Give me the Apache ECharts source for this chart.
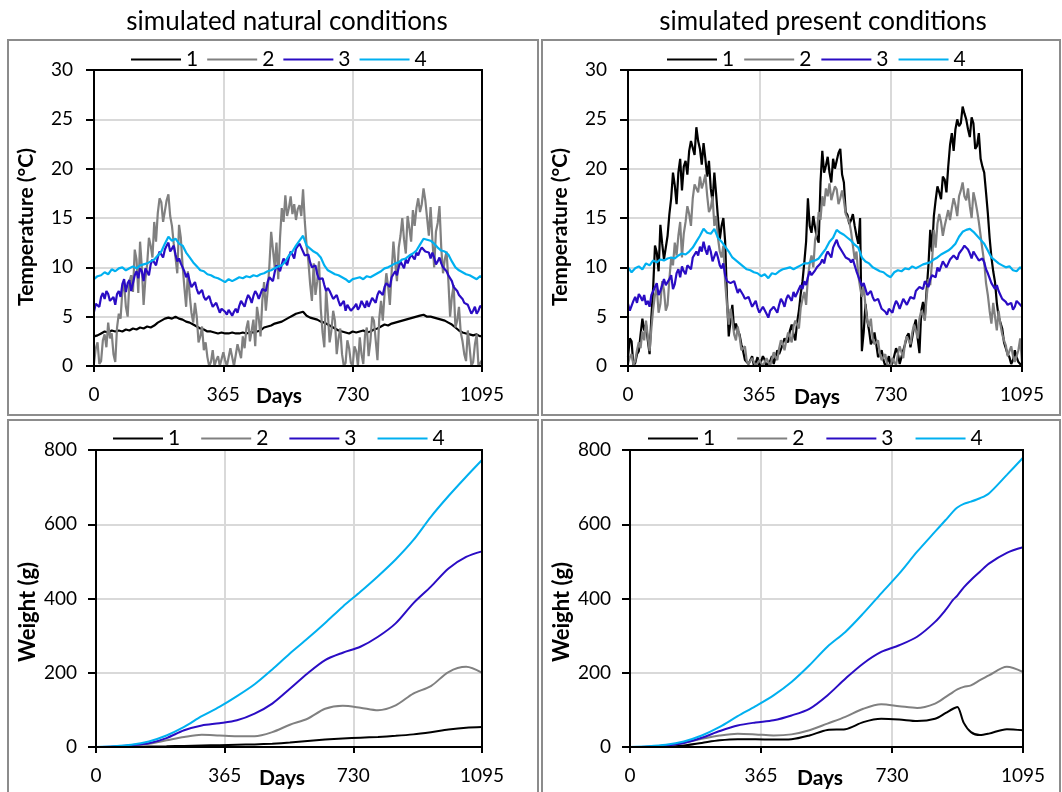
<!DOCTYPE html>
<html>
<head>
<meta charset="utf-8">
<script src="https://cdn.jsdelivr.net/npm/echarts@6/dist/echarts.min.js"></script>
<style>
html,body{margin:0;padding:0;background:#fff;}
#main{width:1062px;height:792px;}
</style>
</head>
<body>
<div id="main"></div>
<script>
// ---------- DATA ----------
const seriesNames = ['1', '2', '3', '4'];
const panelTitles = ['simulated natural conditions', 'simulated present conditions'];

// Temperature sampled every 10 days (0..1090) plus day 1095;
// the noisier series also carry readings at the in-between days 5, 15, ... 1085
const tempDays = [];
for (let d = 0; d <= 1090; d += 10) tempDays.push(d);
tempDays.push(1095);
const midDays = [];
for (let d = 5; d <= 1085; d += 10) midDays.push(d);

// simulated natural conditions – temperature (°C)
const natT1 = [3.0,3.1,3.3,3.5,3.4,3.6,3.5,3.6,3.5,3.7,
  3.6,3.8,3.7,3.9,3.8,4.0,3.9,4.1,4.4,4.6,
  4.8,4.9,4.8,5.0,4.8,4.7,4.5,4.4,4.2,4.0,
  3.8,3.7,3.5,3.5,3.4,3.3,3.4,3.3,3.3,3.4,
  3.3,3.3,3.4,3.3,3.4,3.4,3.5,3.6,3.9,4.0,
  4.1,4.3,4.4,4.5,4.7,4.9,5.1,5.3,5.4,5.5,
  5.1,4.9,4.8,4.7,4.5,4.4,4.2,4.0,3.8,3.6,
  3.5,3.4,3.3,3.5,3.4,3.5,3.6,3.4,3.5,3.7,
  3.8,4.0,4.2,4.1,4.3,4.4,4.5,4.6,4.7,4.8,
  4.9,5.0,5.1,5.2,5.0,5.0,4.9,4.8,4.7,4.6,
  4.4,4.2,3.9,3.6,3.4,3.3,3.2,3.1,3.2,3.0,
  3.1];
const natT2 = [0.3,2.4,0.5,3.2,4.4,3.3,0.4,5.3,7.6,6.0,
  8.6,7.5,10.8,12.6,6.2,10.3,12.2,14.6,15.5,16.6,
  15.7,17.4,14.2,11.0,14.3,10.2,6.0,7.2,4.4,5.0,
  3.0,1.6,0.9,0.4,0.0,1.0,0.0,0.6,0.0,0.9,
  0.2,1.5,3.0,3.8,2.5,4.7,6.0,3.0,8.5,7.6,
  13.6,10.0,8.8,16.0,17.3,16.0,15.4,14.8,16.3,17.9,
  12.2,8.3,10.4,8.6,5.8,1.9,5.3,3.6,4.6,2.8,
  1.2,0.3,1.8,0.0,1.5,2.9,0.2,3.9,2.5,4.6,
  0.6,6.6,7.3,8.1,9.5,10.5,12.0,15.0,11.4,14.0,
  15.8,16.0,15.6,18.0,15.0,16.1,10.0,14.5,12.0,10.8,
  8.7,7.0,3.9,6.0,2.5,0.5,1.9,0.4,3.2,0.2,
  0.6];
const natT2Mid = [1.8,0.2,2.6,1.9,2.8,1.2,3.9,4.8,8.4,5.0,
  9.2,11.8,7.4,10.0,8.8,13.0,11.0,12.6,17.0,14.6,
  16.8,15.2,12.4,9.4,13.0,8.0,9.6,5.4,6.4,2.4,
  4.0,2.4,0.0,1.6,0.6,0.0,1.4,0.0,1.8,0.0,
  2.2,0.8,1.8,4.6,3.6,2.0,4.8,6.6,5.6,10.2,
  11.8,12.5,13.0,14.6,15.2,17.2,16.4,15.9,15.2,14.6,
  10.6,6.6,7.2,10.6,3.4,7.8,2.4,5.6,1.2,3.8,
  0.0,2.6,0.3,2.0,0.0,1.2,3.2,1.0,5.0,2.6,
  4.8,4.6,9.4,6.2,12.6,8.6,13.2,12.8,15.2,12.6,
  14.2,17.0,16.4,16.8,13.2,12.8,13.6,16.2,9.4,11.6,
  5.0,8.2,4.6,3.4,1.2,3.6,0.0,2.2,0.0];
const natT3 = [5.5,6.5,7.0,6.8,7.3,6.4,6.2,7.6,8.3,7.5,
  8.7,7.8,9.6,9.9,8.6,9.8,10.3,10.6,11.0,11.4,
  11.8,12.5,11.9,11.3,10.9,10.0,9.0,8.6,8.1,7.8,
  7.4,7.0,6.8,6.5,6.1,5.9,5.8,5.5,5.7,5.1,
  5.8,6.1,6.5,6.7,6.9,7.1,7.3,6.9,8.0,8.5,
  9.1,9.5,10.1,10.3,10.6,11.0,11.3,11.9,12.4,11.8,
  11.0,10.5,10.0,9.3,8.6,8.2,7.9,7.4,7.0,6.6,
  6.3,5.6,6.1,5.4,6.3,6.0,6.5,6.6,6.2,6.8,
  7.2,7.6,8.0,8.4,9.0,9.6,10.0,10.4,10.8,10.9,
  11.1,11.5,11.7,12.2,11.8,10.9,11.0,10.6,10.4,10.0,
  9.2,8.6,7.8,7.2,6.8,6.5,6.1,5.6,5.3,6.1,
  5.9];
const natT3Mid = [6.3,6.0,7.4,7.6,6.6,7.0,7.3,7.0,8.8,8.4,
  7.6,9.2,8.9,9.6,9.9,9.2,10.8,10.2,11.6,11.0,
  12.2,11.6,12.2,10.6,10.4,9.6,9.4,8.0,8.5,7.3,
  7.7,6.7,7.1,6.0,6.4,5.4,6.0,5.2,5.9,5.5,
  5.4,6.6,6.0,7.2,6.4,7.6,6.8,7.8,7.6,9.0,
  8.6,10.2,9.6,10.9,10.2,11.6,10.9,12.0,12.0,11.2,
  11.3,10.0,10.2,8.8,8.9,7.6,7.6,6.8,7.2,6.1,
  6.6,6.2,5.6,6.0,5.7,6.6,5.9,6.0,6.9,6.4,
  7.6,7.2,8.4,8.0,9.3,9.2,10.6,9.9,10.4,11.3,
  10.8,11.2,12.0,11.6,11.5,11.5,10.3,11.0,10.0,9.6,
  9.0,8.0,7.6,7.0,6.4,6.2,5.3,6.0,5.6];
const natT4 = [8.8,9.1,9.2,9.5,9.3,9.8,9.6,9.9,10.0,9.7,
  9.9,10.1,9.9,10.2,10.3,10.4,10.6,10.8,11.2,11.6,
  12.4,13.1,12.7,12.9,12.4,12.2,11.5,11.0,10.5,10.1,
  9.7,9.6,9.3,9.2,9.0,8.9,8.7,8.5,8.8,8.6,
  8.8,9.0,8.9,9.1,9.0,9.2,9.1,9.3,9.4,9.6,
  9.7,9.9,10.1,10.2,10.6,11.2,11.6,12.2,12.7,13.2,
  12.2,11.9,11.6,11.4,11.0,10.2,9.7,9.5,9.3,9.2,
  9.0,8.8,8.5,8.8,8.9,9.0,8.8,9.1,9.0,9.2,
  9.4,9.6,9.9,10.0,10.2,10.4,10.5,10.8,10.9,11.2,
  11.4,11.7,12.3,12.9,12.8,12.7,12.4,12.0,11.7,11.6,
  11.3,10.6,10.0,9.7,9.5,9.3,9.2,9.0,8.8,9.1,
  9.0];

// simulated present conditions – temperature (°C)
const presT1 = [0.9,2.5,0.3,1.5,4.8,4.2,1.2,8.0,11.5,14.3,
  10.8,13.2,17.0,18.3,19.6,17.8,20.8,21.8,23.0,24.2,
  22.0,22.6,19.2,18.0,19.6,15.0,14.2,12.6,3.0,6.2,
  4.3,3.2,1.5,0.8,0.3,0.0,0.9,0.2,0.6,0.1,
  1.0,0.4,1.2,2.2,3.0,3.6,3.2,4.4,7.3,10.5,
  17.0,13.5,14.0,12.5,21.8,20.3,19.6,21.0,20.8,22.0,
  18.6,15.3,14.8,14.2,12.4,1.5,6.3,3.6,2.6,2.2,
  1.2,0.6,0.3,0.0,0.5,1.3,0.9,2.2,3.3,2.9,
  4.7,1.3,6.5,7.7,13.8,15.2,18.2,16.9,18.9,20.2,
  23.6,24.0,24.3,26.3,25.0,23.2,24.6,22.3,21.0,19.6,
  15.5,11.0,8.5,5.0,3.8,1.8,0.9,0.6,0.9,0.3,
  0.0];
const presT1Mid = [2.8,0.0,1.2,3.2,3.6,2.6,5.0,12.2,9.6,12.4,
  12.0,15.4,19.6,16.4,21.0,20.2,19.4,22.8,21.4,22.8,
  20.4,21.0,20.8,16.6,17.4,12.8,15.0,7.0,4.6,3.6,
  3.6,2.2,0.6,0.2,1.0,0.3,0.0,1.0,0.0,0.5,
  0.2,1.6,1.0,2.8,2.4,4.2,2.6,5.6,8.6,12.6,
  14.2,15.2,13.0,18.6,19.6,21.2,18.6,20.0,21.6,19.4,
  15.6,14.4,15.4,13.2,15.0,3.4,4.6,2.2,3.4,0.9,
  1.6,0.0,1.0,0.3,1.8,0.2,1.6,3.0,1.9,4.0,
  2.8,5.6,5.0,10.2,11.6,16.8,17.6,19.2,17.6,22.4,
  21.8,25.0,24.6,25.6,24.0,25.2,22.0,23.6,20.2,17.6,
  13.0,9.6,6.4,4.4,2.4,1.2,0.2,1.6,0.4];
const presT2 = [0.2,1.2,0.5,2.4,3.5,4.6,1.5,5.8,8.0,6.3,
  7.7,6.2,11.0,12.5,13.2,11.0,14.6,15.4,17.0,18.2,
  19.2,18.6,17.3,16.0,14.2,13.0,11.0,8.5,4.2,4.6,
  2.6,3.0,1.4,0.5,0.2,0.4,0.0,0.3,0.1,0.4,
  0.2,0.9,1.8,2.3,2.6,3.2,4.0,4.8,5.9,7.5,
  9.0,11.2,12.8,15.6,17.2,18.0,18.5,17.5,17.9,17.0,
  16.8,15.0,13.6,10.8,9.2,7.0,6.0,4.0,2.8,2.0,
  1.2,0.5,0.2,0.0,0.4,1.2,1.8,2.4,2.9,3.4,
  3.6,4.8,5.7,7.0,8.2,13.8,14.4,14.6,14.2,15.8,
  16.0,16.3,17.2,18.6,16.8,16.2,17.6,15.8,13.2,10.5,
  7.2,4.3,5.0,5.6,3.2,2.1,1.5,1.0,0.5,2.8,
  0.3];
const presT2Mid = [0.9,0.1,1.6,1.8,2.6,3.0,3.8,7.2,5.4,8.6,
  5.6,8.8,10.2,11.2,14.6,13.4,16.2,14.2,18.4,17.6,
  18.0,19.4,15.6,17.2,15.2,11.6,12.2,6.2,5.8,3.2,
  4.0,1.6,2.0,0.2,0.8,0.0,0.6,0.0,0.8,0.0,
  1.4,0.6,2.6,1.6,3.4,2.4,4.6,3.8,6.8,6.2,
  10.4,10.0,13.6,14.8,16.2,17.2,16.8,18.2,16.4,17.8,
  15.4,14.6,12.2,11.6,8.0,8.2,4.6,4.8,2.2,2.6,
  0.6,1.2,0.0,0.8,0.1,2.0,0.8,3.0,2.2,4.2,
  2.8,5.6,4.6,8.8,10.6,12.0,15.4,13.2,15.0,14.8,
  17.0,15.2,17.8,17.2,18.0,15.0,16.8,14.6,11.8,8.4,
  5.6,6.4,3.6,4.2,2.6,1.0,2.0,0.4,1.6];
const presT3 = [6.3,5.8,7.0,7.3,6.6,6.2,6.0,7.6,8.4,7.6,
  8.8,8.0,9.2,8.3,9.8,10.1,9.3,10.3,11.0,11.6,
  12.1,12.6,11.3,11.6,10.8,11.0,9.9,9.2,8.8,8.2,
  8.0,7.8,7.2,6.6,6.8,6.2,5.9,5.5,5.8,4.9,
  5.4,5.7,6.2,6.5,6.8,7.1,7.5,7.0,8.2,8.6,
  9.0,9.2,9.7,10.2,10.8,11.2,11.5,12.0,12.8,12.0,
  11.6,11.2,10.5,10.2,9.6,8.1,7.8,7.4,7.0,6.6,
  6.3,5.8,5.2,5.8,6.1,6.3,6.0,6.6,6.4,7.0,
  7.6,8.0,7.8,8.4,8.8,9.4,10.0,9.8,10.4,10.2,
  10.7,11.0,11.4,11.9,12.4,11.4,11.6,11.0,10.6,10.5,
  9.4,8.4,7.8,7.6,6.8,6.5,6.0,5.7,6.6,6.2,
  6.0];
const presT3Mid = [5.6,6.6,6.4,7.0,7.2,6.6,7.2,8.0,7.2,8.2,
  8.2,8.8,7.8,9.4,9.0,9.6,10.2,9.8,10.8,11.2,
  11.6,11.8,12.2,10.6,11.6,10.2,10.4,8.6,8.4,8.6,
  7.4,7.6,6.8,7.0,6.0,6.6,5.4,6.0,5.3,5.6,
  6.0,5.4,6.8,6.0,7.2,6.6,7.0,7.8,7.8,8.2,
  9.6,9.0,10.0,10.4,10.4,11.6,11.0,12.4,12.2,11.6,
  11.0,10.8,10.8,9.6,8.6,8.4,7.2,7.6,6.6,6.8,
  5.8,5.5,5.8,5.4,6.6,5.8,6.8,6.2,7.0,6.8,
  7.6,8.2,8.6,8.0,9.2,9.0,9.6,10.6,10.0,10.8,
  11.2,10.8,11.6,12.2,11.8,10.9,11.4,10.7,10.9,9.8,
  8.9,8.6,8.2,7.2,7.0,6.2,6.4,6.0,6.8];
const presT4 = [10.0,9.5,9.9,10.1,9.8,10.4,10.2,10.7,10.5,10.8,
  10.7,10.9,11.0,10.9,11.2,11.4,11.3,11.6,12.0,12.6,
  13.2,13.9,13.5,13.4,13.9,13.0,12.6,12.1,11.6,11.0,
  10.7,10.4,10.1,9.8,9.7,9.5,9.4,9.1,9.3,8.9,
  9.4,9.3,9.6,9.8,9.9,10.0,9.8,10.0,10.2,10.4,
  10.4,10.6,10.7,10.9,11.4,11.9,12.6,13.0,13.8,13.5,
  13.3,13.0,12.7,12.3,12.0,11.0,10.6,10.4,10.0,9.8,
  9.6,9.5,9.2,9.0,9.5,9.7,9.6,9.9,9.8,10.1,
  9.9,10.1,10.3,10.4,10.5,10.8,11.0,11.3,11.5,11.7,
  12.0,12.4,13.1,13.6,13.8,13.9,13.6,13.2,12.8,12.4,
  11.7,11.0,10.7,10.4,10.2,10.0,10.1,9.7,9.6,10.0,
  9.8];

// Weight (g)
const natWDays = [0,50,100,150,200,250,300,350,400,450,500,550,600,650,700,750,800,850,900,950,1000,1050,1095];
const natW1 = [0,0.2,0.6,1.2,2,3,4,5,6,7,9,12,16,20,23,25,27,30,34,40,47,52,54];
const natW2 = [0,0.5,3,9,18,27,33,31,29,29,40,60,76,103,111,106,99,112,144,164,202,216,200];
const natW3 = [0,1.5,5,10,24,45,58,64,72,90,117,157,198,234,254,270,297,333,387,432,481,512,527];
const natW4 = [0,2,6,15,31,54,83,108,137,169,209,252,292,334,378,418,460,505,557,620,676,728,773];

const presWDays = [0,50,100,150,200,250,300,350,400,450,500,550,600,650,700,750,800,850,880,900,912,930,950,975,1000,1050,1095];
const presW1 = [0,0.3,2,4,11,18,21,21,20,21,31,46,48,67,76,74,70,76,92,103,108,65,40,32,36,48,45];
const presW2 = [0,0.5,4,11,22,31,36,34,31,34,45,63,81,103,115,110,105,117,135,148,155,162,166,180,193,216,202];
const presW3 = [0,1,4,11,25,43,58,66,72,85,103,139,184,225,256,274,297,337,370,396,408,430,450,472,494,523,538];
const presW4 = [0,2,6,15,31,54,83,110,139,175,220,270,310,360,414,467,526,580,612,634,645,655,661,670,683,733,779];

// ---------- STYLE / LAYOUT ----------
const colors = ['#000000', '#808080', '#2a0cc4', '#00b0f0'];
const FONT = 'Lato, "Open Sans", sans-serif';
const grids = [
  {left: 94,  top: 70,  width: 388, height: 296},
  {left: 628, top: 70,  width: 394, height: 296},
  {left: 96,  top: 450, width: 386, height: 297},
  {left: 630, top: 450, width: 393, height: 297}
];

const zip = (xs, ys) => xs.map((x, i) => [x, ys[i]]);
// merge the 10-day readings with the in-between readings, ordered by day
const withMid = (base, mid) => zip(tempDays, base).concat(zip(midDays, mid)).sort((a, b) => a[0] - b[0]);

const panels = [
  {data: [zip(tempDays, natT1), withMid(natT2, natT2Mid), withMid(natT3, natT3Mid), zip(tempDays, natT4)], smooth: false},
  {data: [withMid(presT1, presT1Mid), withMid(presT2, presT2Mid), withMid(presT3, presT3Mid), zip(tempDays, presT4)], smooth: false},
  {data: [zip(natWDays, natW1), zip(natWDays, natW2), zip(natWDays, natW3), zip(natWDays, natW4)], smooth: true},
  {data: [zip(presWDays, presW1), zip(presWDays, presW2), zip(presWDays, presW3), zip(presWDays, presW4)], smooth: true}
];

const series = [];
panels.forEach((p, gi) => {
  p.data.forEach((pts, si) => {
    series.push({
      name: seriesNames[si], type: 'line', xAxisIndex: gi, yAxisIndex: gi,
      data: pts, symbol: 'none', showSymbol: false,
      smooth: p.smooth ? 0.3 : false,
      lineStyle: {color: colors[si], width: gi < 2 ? 2.2 : 2}, itemStyle: {color: colors[si]},
      animation: false
    });
  });
});

const xAxes = grids.map((g, i) => ({
  type: 'value', gridIndex: i, min: 0, max: 1095, interval: 365,
  axisLine: {show: true, lineStyle: {color: '#000', width: 2}},
  axisTick: {show: true, inside: false, length: 6, lineStyle: {color: '#000', width: 2}},
  axisLabel: {color: '#000', fontSize: 19, fontFamily: FONT, margin: 19, showMinLabel: true, showMaxLabel: true,
    formatter: v => String(v)},
  splitLine: {show: true, lineStyle: {color: '#d9d9d9', width: 2}}
}));
const yAxes = grids.map((g, i) => ({
  type: 'value', gridIndex: i,
  min: 0, max: i < 2 ? 30 : 800, interval: i < 2 ? 5 : 200,
  axisLine: {show: true, lineStyle: {color: '#000', width: 2}},
  axisTick: {show: true, inside: false, length: 8, lineStyle: {color: '#000', width: 2}},
  axisLabel: {color: '#000', fontSize: 19, fontFamily: FONT, margin: i < 2 ? 21 : 19, formatter: v => String(v)},
  splitLine: {show: true, lineStyle: {color: '#d9d9d9', width: 2}}
}));

const legendPos = [
  {left: 126, top: 44, itemGap: 9},
  {left: 662, top: 44, itemGap: 10},
  {left: 108, top: 423, itemGap: 21},
  {left: 643, top: 423, itemGap: 22}
];
const legends = legendPos.map(l => ({
  left: l.left, top: l.top, itemGap: l.itemGap, itemWidth: 50, itemHeight: 2, icon: 'rect',
  data: seriesNames, textStyle: {fontSize: 21, fontFamily: FONT, color: '#000'},
  selectedMode: false
}));

const graphics = [];
// panel frames
[[8, 40, 530, 375], [542, 40, 518, 375], [8, 420, 530, 380], [542, 420, 518, 380]].forEach(r => {
  graphics.push({type: 'rect', shape: {x: r[0], y: r[1], width: r[2], height: r[3]},
    style: {fill: 'none', stroke: '#8c8c8c', lineWidth: 2}, z: 1, silent: true});
});
// plot frames
grids.forEach(g => {
  graphics.push({type: 'rect', shape: {x: g.left, y: g.top, width: g.width, height: g.height},
    style: {fill: 'none', stroke: '#000', lineWidth: 2}, z: 10, silent: true});
});
const txt = (x, y, text, font, rot) => ({
  type: 'text', x: x, y: y, rotation: rot || 0, z: 11, silent: true,
  style: {text: text, font: font, fill: '#000', textAlign: 'center', verticalAlign: 'middle', textVerticalAlign: 'middle'}
});
graphics.push(txt(287, 22, panelTitles[0], '26px ' + FONT));
graphics.push(txt(823, 22, panelTitles[1], '26px ' + FONT));
graphics.push(txt(279, 396, 'Days', 'bold 21px ' + FONT));
graphics.push(txt(817, 397, 'Days', 'bold 21px ' + FONT));
graphics.push(txt(282, 778, 'Days', 'bold 21px ' + FONT));
graphics.push(txt(820, 778, 'Days', 'bold 21px ' + FONT));
graphics.push(txt(26, 227, 'Temperature (°C)', 'bold 21px ' + FONT, Math.PI / 2));
graphics.push(txt(560, 227, 'Temperature (°C)', 'bold 21px ' + FONT, Math.PI / 2));
graphics.push(txt(28, 612, 'Weight (g)', 'bold 22px ' + FONT, Math.PI / 2));
graphics.push(txt(562, 612, 'Weight (g)', 'bold 22px ' + FONT, Math.PI / 2));

const chart = echarts.init(document.getElementById('main'), null, {renderer: 'canvas'});
chart.setOption({
  animation: false,
  backgroundColor: '#ffffff',
  grid: grids.map(g => Object.assign({containLabel: false}, g)),
  xAxis: xAxes,
  yAxis: yAxes,
  legend: legends,
  series: series,
  graphic: graphics
});
</script>
</body>
</html>
